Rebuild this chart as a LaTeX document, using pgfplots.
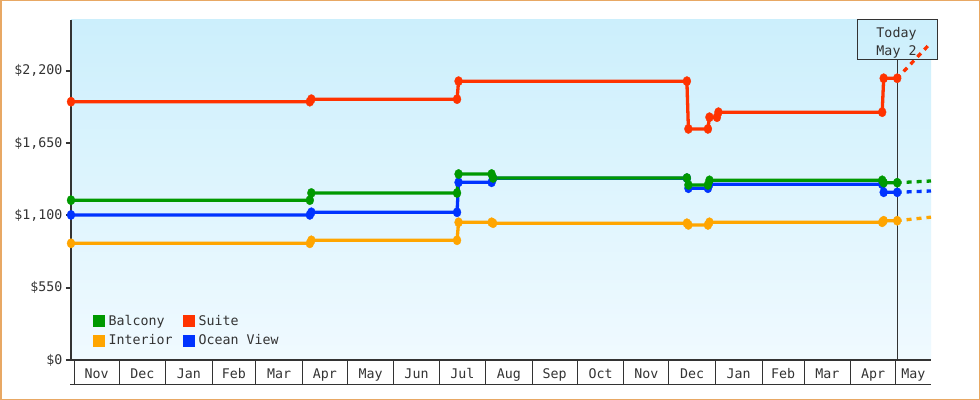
\documentclass[border=0pt]{standalone}
\usepackage{fontspec}
\setmainfont{DejaVu Sans Mono}
\usepackage{pgfplots}
\pgfplotsset{compat=1.18}

\definecolor{balcony}{HTML}{009900}
\definecolor{suite}{HTML}{FF3300}
\definecolor{interior}{HTML}{FFA500}
\definecolor{oceanview}{HTML}{0033FF}
\definecolor{bgtop}{HTML}{CCEFFC}
\definecolor{bgbot}{HTML}{F0FAFF}
\definecolor{axiscol}{HTML}{333333}
\definecolor{framecol}{HTML}{E8A864}

\newcommand{\chartfont}{\fontsize{13.3bp}{16bp}\selectfont}

\pgfplotsset{
  fare/.style={line width=3.3bp, mark=*, mark size=4.7bp,
    mark options={solid, line width=0.3bp, xscale=0.85}},
  proj/.style={line width=3.3bp, no marks, dash pattern=on 5bp off 5bp, dash phase=0.6bp},
}

\begin{document}
\begin{tikzpicture}
\useasboundingbox (0,0) rectangle (980bp,400bp);
\fill[white] (0,0) rectangle (980bp,400bp);
\draw[framecol, line width=1.5bp] (0.75bp,0.75bp) rectangle (979.25bp,399.25bp);
\fill[bgtop] (857bp,340bp) rectangle (937.5bp,380bp);

\begin{axis}[
  name=ax, at={(71bp,40bp)}, anchor=south west,
  scale only axis, width=860bp, height=340bp,
  xmin=-2, xmax=570.5, ymin=0, ymax=2585, clip=false,
  axis background/.style={top color=bgtop, bottom color=bgbot},
  axis x line*=bottom, axis y line*=left,
  axis line style={axiscol, line width=2bp, -},
  tick align=outside, major tick length=5bp,
  ytick={0,550,1100,1650,2200},
  yticklabels={\$0,\$550,{\$1,100},{\$1,650},{\$2,200}},
  ytick style={axiscol, line width=2bp},
  xtick={15,45.5,76.5,106.5,136.5,167,197.5,228,258.5,289.5,320,350.5,381,411.5,442.5,472,501.5,532,558.75},
  xticklabels={Nov,Dec,Jan,Feb,Mar,Apr,May,Jun,Jul,Aug,Sep,Oct,Nov,Dec,Jan,Feb,Mar,Apr,May},
  xtick style={draw=none},
  extra x ticks={0,30,61,92,121,152,182,213,243,274,305,335,366,396,427,458,486,517,547},
  extra x tick labels={},
  extra x tick style={major tick length=25bp, xtick style={draw=axiscol, line width=1bp}},
  ticklabel style={font=\chartfont, text=axiscol},
  legend columns=2,
  legend style={at={(0,0)}, anchor=south west, xshift=22bp, yshift=12bp,
    draw=none, fill=none, inner sep=0pt, font=\chartfont, text=axiscol,
    row sep=5bp, nodes={inner sep=1.5bp},
    /tikz/every odd column/.append style={column sep=2.5bp},
    /tikz/every even column/.append style={column sep=9bp}},
  legend cell align=left,
]
\draw[axiscol, line width=1bp] (axis cs:548,0) -- (axis cs:548,2281);

\addplot[fare, color=oceanview, forget plot] coordinates {
  (-2,1103) (157,1103) (158,1123) (255,1123) (256,1351) (278,1351) (279,1382)
  (408,1382) (409,1306) (422,1306) (423,1336) (538,1336) (539,1275) (548,1275)
};
\addplot[fare, color=interior, forget plot] coordinates {
  (-2,887) (157,887) (158,910) (255,910) (256,1047) (278,1047) (279,1040)
  (408,1040) (409,1027) (422,1027) (423,1047) (538,1047) (539,1059) (548,1059)
};
\addplot[fare, color=balcony, forget plot] coordinates {
  (-2,1215) (157,1215) (158,1270) (255,1270) (256,1414) (278,1414) (279,1384)
  (408,1384) (409,1331) (422,1331) (423,1366) (538,1366) (539,1348) (548,1348)
};
\addplot[fare, color=suite, forget plot] coordinates {
  (-2,1964) (157,1964) (158,1983) (255,1983) (256,2120) (408,2120) (409,1757)
  (422,1757) (423,1846) (428,1846) (429,1884) (538,1884) (539,2142) (548,2142)
};

\addplot[proj, color=oceanview, forget plot] coordinates {(548,1275) (570.5,1285)};
\addplot[proj, color=interior, forget plot] coordinates {(548,1059) (570.5,1086)};
\addplot[proj, color=balcony, forget plot] coordinates {(548,1348) (570.5,1361)};
\addplot[proj, color=suite, forget plot] coordinates {(548,2142) (570.5,2413)};

\addlegendimage{legend image code/.code={\fill[balcony] (0bp,-5.5bp) rectangle (11bp,5.5bp);}}
\addlegendentry{Balcony}
\addlegendimage{legend image code/.code={\fill[suite] (0bp,-5.5bp) rectangle (11bp,5.5bp);}}
\addlegendentry{Suite}
\addlegendimage{legend image code/.code={\fill[interior] (0bp,-5.5bp) rectangle (11bp,5.5bp);}}
\addlegendentry{Interior}
\addlegendimage{legend image code/.code={\fill[oceanview] (0bp,-5.5bp) rectangle (11bp,5.5bp);}}
\addlegendentry{Ocean View}
\end{axis}

\draw[axiscol, line width=1bp] (70bp,15bp) -- (931bp,15bp);
\draw[axiscol, line width=1bp] (857bp,340bp) rectangle (937.5bp,380bp);
\node[font=\chartfont, text=axiscol, anchor=base] at (896.5bp,362.5bp) {Today};
\node[font=\chartfont, text=axiscol, anchor=base] at (896.5bp,344bp) {May 2};
\end{tikzpicture}
\end{document}
